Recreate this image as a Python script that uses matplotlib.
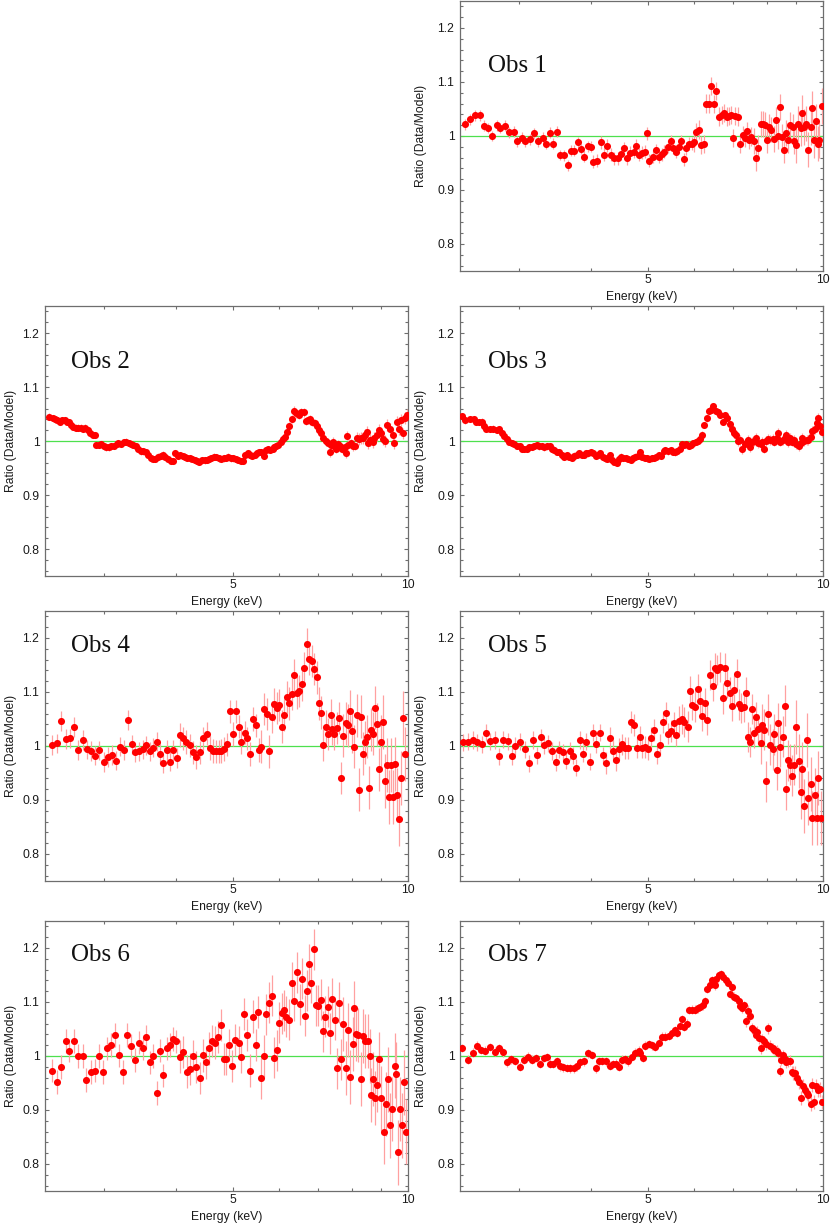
import matplotlib
matplotlib.use('Agg')
import matplotlib.pyplot as plt
from matplotlib.ticker import FixedLocator, MultipleLocator, NullFormatter

plt.rcParams['font.family'] = ['Liberation Sans', 'DejaVu Sans']

# ---- data: energy (keV), ratio (data/model), 1-sigma error ----
obs1_energy = [2.43, 2.47, 2.52, 2.57, 2.62, 2.66, 2.70, 2.75, 2.79, 2.84,
               2.89, 2.94, 2.98, 3.04, 3.08, 3.14, 3.19, 3.24, 3.30, 3.34,
               3.39, 3.44, 3.49, 3.53, 3.59, 3.64, 3.69, 3.74, 3.79, 3.84,
               3.89, 3.94, 3.99, 4.03, 4.09, 4.15, 4.21, 4.26, 4.32, 4.38,
               4.44, 4.49, 4.55, 4.60, 4.66, 4.73, 4.77, 4.83, 4.88, 4.94,
               4.98, 5.03, 5.10, 5.16, 5.22, 5.29, 5.34, 5.41, 5.47, 5.52,
               5.59, 5.65, 5.70, 5.76, 5.82, 5.88, 5.95, 6.01, 6.06, 6.12,
               6.17, 6.24, 6.29, 6.38, 6.43, 6.49, 6.56, 6.62, 6.71, 6.77,
               6.84, 6.90, 6.95, 7.00, 7.07, 7.14, 7.19, 7.28, 7.34, 7.40,
               7.47, 7.52, 7.60, 7.67, 7.73, 7.81, 7.88, 7.94, 8.02, 8.09,
               8.15, 8.23, 8.31, 8.37, 8.43, 8.51, 8.56, 8.64, 8.71, 8.79,
               8.87, 8.93, 9.00, 9.06, 9.15, 9.21, 9.27, 9.35, 9.43, 9.52,
               9.58, 9.64, 9.73, 9.80, 9.86, 9.96]
obs1_ratio = [1.022, 1.031, 1.038, 1.038, 1.019, 1.015, 1.000, 1.020, 1.015, 1.019,
              1.007, 1.008, 0.990, 0.997, 0.990, 0.994, 1.005, 0.990, 0.997, 0.986,
              1.006, 0.986, 1.008, 0.965, 0.964, 0.946, 0.973, 0.973, 0.988, 0.976,
              0.962, 0.981, 0.980, 0.952, 0.954, 0.988, 0.965, 0.982, 0.965, 0.959,
              0.959, 0.967, 0.977, 0.959, 0.969, 0.971, 0.982, 0.965, 0.969, 0.971,
              1.005, 0.954, 0.962, 0.974, 0.962, 0.966, 0.971, 0.980, 0.990, 0.978,
              0.971, 0.980, 0.990, 0.957, 0.977, 0.986, 0.986, 0.988, 1.008, 1.012,
              0.983, 0.985, 1.060, 1.060, 1.093, 1.059, 1.083, 1.036, 1.039, 1.043,
              1.036, 1.037, 1.039, 0.996, 1.037, 1.036, 0.986, 1.002, 0.996, 1.009,
              0.993, 0.999, 0.991, 0.960, 0.977, 1.023, 1.022, 1.020, 0.993, 1.017,
              1.012, 0.994, 1.030, 1.000, 1.053, 0.998, 0.974, 1.005, 0.993, 1.020,
              1.017, 0.990, 0.983, 1.022, 1.014, 1.043, 1.017, 1.023, 0.975, 1.016,
              1.051, 0.993, 1.027, 0.986, 0.993, 1.056]
obs1_err = [0.010, 0.010, 0.010, 0.010, 0.010, 0.010, 0.010, 0.010, 0.010, 0.010,
            0.010, 0.010, 0.010, 0.010, 0.010, 0.010, 0.010, 0.010, 0.010, 0.010,
            0.010, 0.010, 0.010, 0.010, 0.010, 0.010, 0.010, 0.010, 0.010, 0.010,
            0.010, 0.010, 0.010, 0.012, 0.012, 0.012, 0.012, 0.012, 0.012, 0.012,
            0.012, 0.012, 0.012, 0.012, 0.012, 0.012, 0.012, 0.012, 0.012, 0.012,
            0.012, 0.012, 0.012, 0.012, 0.012, 0.012, 0.012, 0.012, 0.012, 0.012,
            0.012, 0.012, 0.012, 0.012, 0.012, 0.012, 0.012, 0.017, 0.017, 0.017,
            0.017, 0.017, 0.017, 0.017, 0.017, 0.017, 0.017, 0.017, 0.017, 0.017,
            0.017, 0.017, 0.017, 0.017, 0.017, 0.017, 0.017, 0.017, 0.017, 0.017,
            0.017, 0.017, 0.024, 0.024, 0.024, 0.024, 0.024, 0.024, 0.024, 0.024,
            0.024, 0.024, 0.024, 0.024, 0.024, 0.024, 0.024, 0.024, 0.024, 0.024,
            0.024, 0.024, 0.033, 0.033, 0.033, 0.033, 0.033, 0.033, 0.033, 0.033,
            0.033, 0.033, 0.033, 0.033, 0.033, 0.033]

obs2_energy = [2.42, 2.45, 2.47, 2.49, 2.52, 2.54, 2.57, 2.59, 2.62, 2.64,
               2.66, 2.69, 2.71, 2.74, 2.76, 2.79, 2.82, 2.84, 2.87, 2.90,
               2.91, 2.94, 2.97, 3.00, 3.03, 3.06, 3.09, 3.12, 3.16, 3.18,
               3.21, 3.25, 3.28, 3.31, 3.34, 3.37, 3.41, 3.44, 3.47, 3.51,
               3.54, 3.58, 3.61, 3.65, 3.68, 3.72, 3.76, 3.80, 3.83, 3.87,
               3.91, 3.94, 3.98, 4.02, 4.05, 4.10, 4.14, 4.17, 4.22, 4.26,
               4.30, 4.34, 4.38, 4.42, 4.47, 4.51, 4.55, 4.59, 4.64, 4.68,
               4.73, 4.77, 4.82, 4.86, 4.91, 4.96, 5.01, 5.06, 5.11, 5.16,
               5.20, 5.25, 5.30, 5.35, 5.40, 5.45, 5.50, 5.55, 5.60, 5.65,
               5.70, 5.75, 5.79, 5.85, 5.89, 5.94, 5.99, 6.04, 6.09, 6.15,
               6.20, 6.25, 6.31, 6.37, 6.43, 6.50, 6.56, 6.62, 6.67, 6.73,
               6.79, 6.85, 6.91, 6.97, 7.03, 7.10, 7.15, 7.22, 7.28, 7.33,
               7.37, 7.42, 7.47, 7.52, 7.59, 7.64, 7.70, 7.78, 7.81, 7.85,
               7.90, 7.97, 8.04, 8.11, 8.16, 8.24, 8.31, 8.38, 8.45, 8.50,
               8.55, 8.61, 8.69, 8.75, 8.84, 8.93, 8.98, 9.05, 9.14, 9.22,
               9.32, 9.42, 9.47, 9.57, 9.64, 9.72, 9.80, 9.89, 9.98]
obs2_ratio = [1.045, 1.043, 1.040, 1.038, 1.036, 1.039, 1.038, 1.036, 1.035, 1.030,
              1.026, 1.025, 1.025, 1.025, 1.023, 1.025, 1.020, 1.014, 1.012, 1.011,
              0.993, 0.993, 0.994, 0.990, 0.988, 0.988, 0.990, 0.991, 0.994, 0.996,
              0.994, 0.998, 0.999, 0.996, 0.994, 0.993, 0.990, 0.985, 0.981, 0.981,
              0.980, 0.974, 0.968, 0.967, 0.967, 0.971, 0.973, 0.975, 0.970, 0.967,
              0.963, 0.963, 0.978, 0.973, 0.974, 0.972, 0.971, 0.969, 0.968, 0.967,
              0.965, 0.963, 0.962, 0.964, 0.964, 0.965, 0.967, 0.969, 0.971, 0.970,
              0.968, 0.967, 0.968, 0.969, 0.971, 0.968, 0.968, 0.967, 0.965, 0.963,
              0.963, 0.974, 0.977, 0.974, 0.973, 0.975, 0.977, 0.980, 0.980, 0.972,
              0.983, 0.985, 0.983, 0.986, 0.988, 0.991, 0.993, 0.999, 1.004, 1.008,
              1.017, 1.027, 1.041, 1.056, 1.051, 1.048, 1.053, 1.053, 1.037, 1.039,
              1.040, 1.035, 1.033, 1.027, 1.020, 1.015, 1.006, 1.000, 0.996, 0.979,
              0.993, 0.999, 0.990, 0.985, 0.994, 0.991, 0.985, 0.988, 0.977, 1.010,
              0.993, 0.996, 0.990, 0.991, 1.005, 1.004, 1.006, 1.005, 1.011, 1.016,
              0.996, 1.002, 0.998, 1.005, 1.011, 1.020, 1.014, 1.004, 1.000, 1.030,
              1.023, 1.012, 0.996, 1.035, 1.023, 1.039, 1.014, 1.043, 1.049]
obs2_err = [0.006, 0.006, 0.006, 0.006, 0.006, 0.006, 0.006, 0.006, 0.006, 0.006,
            0.006, 0.006, 0.006, 0.006, 0.006, 0.006, 0.006, 0.006, 0.006, 0.006,
            0.006, 0.006, 0.006, 0.006, 0.006, 0.006, 0.006, 0.006, 0.006, 0.006,
            0.006, 0.006, 0.006, 0.006, 0.006, 0.006, 0.006, 0.006, 0.006, 0.006,
            0.006, 0.006, 0.006, 0.006, 0.006, 0.006, 0.006, 0.006, 0.006, 0.006,
            0.006, 0.006, 0.006, 0.006, 0.006, 0.006, 0.006, 0.006, 0.006, 0.006,
            0.006, 0.006, 0.006, 0.006, 0.006, 0.006, 0.006, 0.006, 0.006, 0.006,
            0.006, 0.006, 0.006, 0.006, 0.006, 0.006, 0.006, 0.006, 0.006, 0.006,
            0.006, 0.006, 0.006, 0.006, 0.006, 0.006, 0.006, 0.006, 0.006, 0.006,
            0.006, 0.006, 0.006, 0.006, 0.006, 0.006, 0.006, 0.006, 0.006, 0.006,
            0.008, 0.008, 0.008, 0.008, 0.008, 0.008, 0.008, 0.008, 0.008, 0.008,
            0.008, 0.008, 0.008, 0.008, 0.008, 0.008, 0.008, 0.008, 0.008, 0.008,
            0.008, 0.008, 0.008, 0.008, 0.008, 0.008, 0.008, 0.008, 0.008, 0.008,
            0.008, 0.008, 0.008, 0.008, 0.011, 0.011, 0.011, 0.011, 0.011, 0.011,
            0.011, 0.011, 0.011, 0.011, 0.011, 0.011, 0.011, 0.011, 0.011, 0.011,
            0.011, 0.011, 0.011, 0.011, 0.011, 0.011, 0.011, 0.011, 0.011]

obs3_energy = [2.40, 2.43, 2.47, 2.51, 2.53, 2.56, 2.59, 2.62, 2.64, 2.68,
               2.71, 2.75, 2.78, 2.81, 2.83, 2.86, 2.89, 2.92, 2.95, 2.98,
               3.01, 3.04, 3.06, 3.10, 3.13, 3.16, 3.19, 3.22, 3.25, 3.29,
               3.32, 3.35, 3.39, 3.42, 3.45, 3.49, 3.52, 3.56, 3.59, 3.63,
               3.66, 3.70, 3.74, 3.78, 3.81, 3.85, 3.88, 3.92, 3.95, 3.99,
               4.03, 4.07, 4.10, 4.14, 4.18, 4.22, 4.26, 4.30, 4.34, 4.38,
               4.42, 4.46, 4.50, 4.54, 4.59, 4.63, 4.67, 4.71, 4.76, 4.80,
               4.85, 4.89, 4.94, 4.98, 5.03, 5.08, 5.12, 5.17, 5.22, 5.27,
               5.32, 5.36, 5.41, 5.47, 5.52, 5.57, 5.62, 5.67, 5.72, 5.77,
               5.82, 5.88, 5.93, 5.99, 6.04, 6.10, 6.15, 6.20, 6.25, 6.31,
               6.37, 6.43, 6.48, 6.54, 6.60, 6.66, 6.72, 6.79, 6.85, 6.91,
               6.98, 7.03, 7.10, 7.15, 7.21, 7.27, 7.33, 7.39, 7.44, 7.50,
               7.56, 7.62, 7.68, 7.74, 7.81, 7.87, 7.93, 7.99, 8.06, 8.12,
               8.19, 8.25, 8.32, 8.38, 8.45, 8.52, 8.59, 8.65, 8.72, 8.79,
               8.86, 8.93, 9.00, 9.08, 9.15, 9.22, 9.29, 9.37, 9.44, 9.52,
               9.59, 9.67, 9.75, 9.82, 9.90, 9.98]
obs3_ratio = [1.046, 1.038, 1.041, 1.040, 1.036, 1.035, 1.036, 1.027, 1.023, 1.022,
              1.023, 1.020, 1.022, 1.014, 1.010, 1.004, 0.999, 0.996, 0.994, 0.991,
              0.990, 0.986, 0.985, 0.985, 0.988, 0.989, 0.991, 0.993, 0.990, 0.991,
              0.988, 0.990, 0.991, 0.986, 0.983, 0.980, 0.980, 0.974, 0.971, 0.974,
              0.971, 0.969, 0.973, 0.975, 0.977, 0.974, 0.975, 0.977, 0.977, 0.980,
              0.977, 0.973, 0.975, 0.977, 0.971, 0.968, 0.967, 0.974, 0.965, 0.962,
              0.960, 0.967, 0.971, 0.969, 0.969, 0.967, 0.965, 0.969, 0.971, 0.973,
              0.979, 0.971, 0.969, 0.968, 0.967, 0.968, 0.969, 0.971, 0.974, 0.973,
              0.981, 0.983, 0.981, 0.983, 0.980, 0.979, 0.981, 0.985, 0.994, 0.993,
              0.994, 0.991, 0.993, 0.996, 0.998, 1.000, 1.004, 1.012, 1.030, 1.042,
              1.056, 1.057, 1.064, 1.056, 1.053, 1.048, 1.035, 1.048, 1.043, 1.031,
              1.023, 1.015, 1.012, 1.000, 1.002, 0.985, 0.994, 0.999, 1.002, 0.988,
              0.999, 1.000, 1.005, 0.996, 0.994, 0.999, 0.986, 1.000, 1.004, 1.002,
              1.004, 0.999, 1.006, 1.015, 0.999, 1.002, 1.005, 1.011, 0.998, 1.005,
              0.999, 1.002, 0.994, 0.990, 0.996, 1.005, 1.000, 1.002, 1.002, 1.008,
              1.019, 1.022, 1.033, 1.043, 1.027, 1.017]
obs3_err = [0.006, 0.006, 0.006, 0.006, 0.006, 0.006, 0.006, 0.006, 0.006, 0.006,
            0.006, 0.006, 0.006, 0.006, 0.006, 0.006, 0.006, 0.006, 0.006, 0.006,
            0.006, 0.006, 0.006, 0.006, 0.006, 0.006, 0.006, 0.006, 0.006, 0.006,
            0.006, 0.006, 0.006, 0.006, 0.006, 0.006, 0.006, 0.006, 0.006, 0.006,
            0.006, 0.006, 0.006, 0.006, 0.006, 0.006, 0.006, 0.006, 0.006, 0.006,
            0.006, 0.006, 0.006, 0.006, 0.006, 0.006, 0.006, 0.006, 0.006, 0.006,
            0.006, 0.006, 0.006, 0.006, 0.006, 0.006, 0.006, 0.006, 0.006, 0.006,
            0.006, 0.006, 0.006, 0.006, 0.006, 0.006, 0.006, 0.006, 0.006, 0.006,
            0.006, 0.006, 0.006, 0.006, 0.006, 0.006, 0.006, 0.006, 0.006, 0.006,
            0.006, 0.006, 0.006, 0.006, 0.006, 0.006, 0.006, 0.006, 0.006, 0.006,
            0.006, 0.006, 0.006, 0.006, 0.006, 0.006, 0.006, 0.006, 0.006, 0.006,
            0.009, 0.009, 0.009, 0.009, 0.009, 0.009, 0.009, 0.009, 0.009, 0.009,
            0.009, 0.009, 0.009, 0.009, 0.009, 0.009, 0.009, 0.009, 0.009, 0.009,
            0.009, 0.009, 0.009, 0.009, 0.009, 0.009, 0.009, 0.009, 0.009, 0.009,
            0.009, 0.009, 0.009, 0.009, 0.009, 0.009, 0.009, 0.009, 0.009, 0.009,
            0.009, 0.009, 0.009, 0.009, 0.009, 0.009]

obs4_energy = [2.44, 2.49, 2.53, 2.58, 2.63, 2.67, 2.71, 2.76, 2.81, 2.85,
               2.90, 2.95, 3.00, 3.05, 3.10, 3.15, 3.20, 3.25, 3.30, 3.35,
               3.40, 3.45, 3.50, 3.54, 3.60, 3.65, 3.70, 3.75, 3.80, 3.85,
               3.90, 3.95, 4.01, 4.06, 4.11, 4.16, 4.22, 4.27, 4.33, 4.39,
               4.45, 4.51, 4.57, 4.63, 4.68, 4.73, 4.78, 4.83, 4.89, 4.94,
               5.00, 5.06, 5.12, 5.17, 5.24, 5.29, 5.36, 5.42, 5.48, 5.54,
               5.60, 5.66, 5.72, 5.78, 5.84, 5.89, 5.95, 6.01, 6.07, 6.13,
               6.19, 6.25, 6.31, 6.37, 6.44, 6.50, 6.57, 6.63, 6.70, 6.77,
               6.83, 6.90, 6.97, 7.03, 7.10, 7.15, 7.22, 7.29, 7.36, 7.41,
               7.47, 7.54, 7.61, 7.68, 7.74, 7.81, 7.88, 7.95, 8.02, 8.09,
               8.16, 8.23, 8.30, 8.36, 8.44, 8.51, 8.57, 8.64, 8.71, 8.78,
               8.85, 8.92, 8.99, 9.06, 9.14, 9.21, 9.27, 9.34, 9.42, 9.49,
               9.57, 9.64, 9.72, 9.80, 9.88]
obs4_ratio = [1.002, 1.005, 1.046, 1.013, 1.014, 1.035, 0.993, 1.011, 0.994, 0.991,
              0.982, 0.992, 0.970, 0.980, 0.983, 0.973, 0.999, 0.993, 1.048, 1.003,
              0.988, 0.990, 0.994, 1.001, 0.990, 0.997, 1.008, 0.985, 0.968, 0.993,
              0.971, 0.993, 0.978, 1.020, 1.014, 1.008, 1.001, 0.988, 0.980, 0.988,
              1.014, 1.023, 0.997, 0.991, 0.990, 0.990, 0.991, 0.994, 1.003, 1.064,
              1.022, 1.064, 1.036, 1.008, 1.025, 1.014, 0.985, 1.050, 1.038, 0.993,
              0.999, 1.069, 1.059, 0.990, 1.054, 1.077, 1.070, 1.076, 1.036, 1.057,
              1.091, 1.079, 1.096, 1.131, 1.099, 1.102, 1.114, 1.145, 1.188, 1.162,
              1.157, 1.143, 1.127, 1.079, 1.062, 1.002, 1.036, 1.022, 1.057, 1.031,
              1.022, 1.033, 1.052, 0.941, 1.019, 1.042, 1.038, 1.064, 1.027, 0.999,
              1.057, 0.919, 1.054, 0.986, 1.007, 1.017, 0.923, 1.030, 1.023, 1.071,
              1.040, 0.957, 1.008, 1.045, 0.936, 0.964, 0.906, 0.965, 0.906, 0.966,
              0.910, 0.865, 0.941, 1.051, 0.985]
obs4_err = [0.018, 0.018, 0.018, 0.018, 0.018, 0.018, 0.018, 0.018, 0.018, 0.018,
            0.018, 0.018, 0.018, 0.018, 0.018, 0.018, 0.018, 0.018, 0.018, 0.018,
            0.018, 0.018, 0.018, 0.018, 0.018, 0.018, 0.018, 0.018, 0.018, 0.018,
            0.018, 0.018, 0.018, 0.022, 0.022, 0.022, 0.022, 0.022, 0.022, 0.022,
            0.022, 0.022, 0.022, 0.022, 0.022, 0.022, 0.022, 0.022, 0.022, 0.022,
            0.022, 0.022, 0.022, 0.022, 0.022, 0.022, 0.022, 0.022, 0.022, 0.022,
            0.030, 0.030, 0.030, 0.030, 0.030, 0.030, 0.030, 0.030, 0.030, 0.030,
            0.030, 0.030, 0.030, 0.030, 0.030, 0.030, 0.030, 0.030, 0.030, 0.030,
            0.030, 0.030, 0.030, 0.030, 0.030, 0.030, 0.030, 0.030, 0.030, 0.030,
            0.030, 0.030, 0.030, 0.030, 0.040, 0.040, 0.040, 0.040, 0.040, 0.040,
            0.040, 0.040, 0.040, 0.040, 0.040, 0.040, 0.040, 0.040, 0.040, 0.040,
            0.040, 0.040, 0.050, 0.050, 0.050, 0.050, 0.050, 0.050, 0.050, 0.050,
            0.050, 0.050, 0.050, 0.050, 0.050]

obs5_energy = [2.41, 2.45, 2.50, 2.54, 2.59, 2.64, 2.68, 2.73, 2.78, 2.82,
               2.87, 2.92, 2.96, 3.02, 3.07, 3.12, 3.17, 3.22, 3.27, 3.31,
               3.37, 3.42, 3.47, 3.52, 3.57, 3.62, 3.67, 3.72, 3.77, 3.82,
               3.87, 3.92, 3.97, 4.02, 4.07, 4.13, 4.19, 4.24, 4.30, 4.35,
               4.40, 4.46, 4.52, 4.57, 4.63, 4.68, 4.74, 4.79, 4.84, 4.89,
               4.94, 5.01, 5.07, 5.13, 5.19, 5.25, 5.31, 5.37, 5.42, 5.49,
               5.55, 5.60, 5.66, 5.72, 5.78, 5.85, 5.91, 5.96, 6.03, 6.09,
               6.15, 6.20, 6.27, 6.33, 6.39, 6.46, 6.51, 6.57, 6.64, 6.72,
               6.79, 6.85, 6.91, 6.98, 7.04, 7.11, 7.17, 7.24, 7.31, 7.38,
               7.43, 7.49, 7.55, 7.61, 7.68, 7.74, 7.81, 7.87, 7.93, 7.99,
               8.06, 8.12, 8.19, 8.25, 8.32, 8.38, 8.45, 8.52, 8.59, 8.65,
               8.72, 8.79, 8.86, 8.93, 9.00, 9.08, 9.15, 9.22, 9.29, 9.37,
               9.44, 9.52, 9.59, 9.67, 9.75, 9.82, 9.93]
obs5_ratio = [1.007, 1.008, 1.011, 1.007, 1.003, 1.025, 1.009, 1.011, 0.981, 1.012,
              1.009, 0.981, 1.000, 1.008, 0.994, 0.968, 1.011, 0.983, 1.016, 1.001,
              1.005, 0.991, 0.970, 0.993, 0.988, 0.973, 0.991, 0.982, 0.960, 1.011,
              0.986, 1.008, 0.971, 1.025, 1.003, 1.025, 0.983, 0.968, 1.015, 0.991,
              0.974, 0.994, 1.003, 0.996, 0.996, 1.045, 1.039, 0.997, 1.017, 0.997,
              0.998, 0.994, 1.015, 1.030, 0.986, 1.002, 1.045, 1.061, 1.023, 1.028,
              1.043, 1.020, 1.046, 1.050, 1.045, 1.036, 1.102, 1.076, 1.073, 1.106,
              1.083, 1.056, 1.079, 1.048, 1.131, 1.112, 1.145, 1.141, 1.147, 1.088,
              1.145, 1.116, 1.099, 1.075, 1.104, 1.133, 1.077, 1.071, 1.073, 1.099,
              1.017, 1.008, 1.068, 1.025, 1.054, 1.031, 1.005, 1.039, 1.030, 0.935,
              1.059, 1.002, 0.994, 1.022, 0.956, 1.042, 0.999, 1.017, 1.075, 0.920,
              0.974, 0.965, 0.945, 0.965, 1.035, 0.972, 0.915, 0.957, 0.888, 1.011,
              0.903, 0.929, 0.867, 0.909, 0.867, 0.941, 0.867]
obs5_err = [0.016, 0.016, 0.016, 0.016, 0.016, 0.016, 0.016, 0.016, 0.016, 0.016,
            0.016, 0.016, 0.016, 0.016, 0.016, 0.016, 0.016, 0.016, 0.016, 0.016,
            0.016, 0.016, 0.016, 0.016, 0.016, 0.016, 0.016, 0.016, 0.016, 0.016,
            0.016, 0.016, 0.016, 0.016, 0.016, 0.016, 0.016, 0.020, 0.020, 0.020,
            0.020, 0.020, 0.020, 0.020, 0.020, 0.020, 0.020, 0.020, 0.020, 0.020,
            0.020, 0.020, 0.020, 0.020, 0.020, 0.020, 0.020, 0.020, 0.020, 0.020,
            0.020, 0.020, 0.028, 0.028, 0.028, 0.028, 0.028, 0.028, 0.028, 0.028,
            0.028, 0.028, 0.028, 0.028, 0.028, 0.028, 0.028, 0.028, 0.028, 0.028,
            0.028, 0.028, 0.028, 0.028, 0.028, 0.028, 0.028, 0.028, 0.028, 0.028,
            0.028, 0.028, 0.028, 0.028, 0.028, 0.028, 0.038, 0.038, 0.038, 0.038,
            0.038, 0.038, 0.038, 0.038, 0.038, 0.038, 0.038, 0.038, 0.038, 0.038,
            0.038, 0.038, 0.038, 0.038, 0.050, 0.050, 0.050, 0.050, 0.050, 0.050,
            0.050, 0.050, 0.050, 0.050, 0.050, 0.050, 0.050]

obs6_energy = [2.44, 2.49, 2.53, 2.58, 2.62, 2.67, 2.71, 2.76, 2.80, 2.85,
               2.90, 2.94, 2.99, 3.04, 3.09, 3.14, 3.19, 3.24, 3.29, 3.34,
               3.39, 3.45, 3.50, 3.54, 3.60, 3.65, 3.70, 3.75, 3.80, 3.85,
               3.90, 3.95, 4.00, 4.05, 4.11, 4.17, 4.22, 4.27, 4.33, 4.39,
               4.45, 4.50, 4.55, 4.61, 4.66, 4.72, 4.77, 4.82, 4.87, 4.93,
               4.99, 5.05, 5.12, 5.17, 5.23, 5.29, 5.35, 5.41, 5.47, 5.53,
               5.59, 5.65, 5.71, 5.77, 5.83, 5.89, 5.95, 6.01, 6.07, 6.12,
               6.18, 6.24, 6.31, 6.37, 6.44, 6.51, 6.57, 6.64, 6.70, 6.76,
               6.82, 6.89, 6.95, 7.01, 7.08, 7.14, 7.21, 7.28, 7.35, 7.41,
               7.48, 7.54, 7.61, 7.68, 7.74, 7.83, 7.89, 7.95, 8.03, 8.09,
               8.14, 8.22, 8.30, 8.38, 8.45, 8.53, 8.59, 8.65, 8.72, 8.79,
               8.86, 8.93, 9.00, 9.09, 9.17, 9.24, 9.32, 9.39, 9.48, 9.54,
               9.62, 9.69, 9.77, 9.85, 9.93]
obs6_ratio = [0.973, 0.952, 0.979, 1.028, 1.010, 1.028, 1.000, 1.000, 0.956, 0.971,
              0.973, 1.000, 0.970, 1.014, 1.020, 1.039, 1.001, 0.970, 1.039, 1.019,
              0.993, 1.025, 1.014, 1.035, 0.988, 1.000, 0.932, 1.010, 0.964, 1.014,
              1.020, 1.031, 1.027, 0.999, 1.007, 0.971, 0.976, 1.000, 0.980, 0.959,
              1.001, 0.988, 1.014, 1.028, 1.025, 1.035, 1.057, 0.994, 0.994, 1.020,
              0.982, 1.030, 1.025, 0.999, 1.078, 1.039, 0.973, 1.073, 1.020, 1.081,
              0.959, 1.000, 1.077, 1.099, 1.112, 0.997, 1.011, 1.062, 1.079, 1.085,
              1.073, 1.067, 1.136, 1.102, 1.155, 1.096, 1.143, 1.075, 1.121, 1.170,
              1.136, 1.198, 1.094, 1.093, 1.104, 1.046, 1.073, 1.091, 1.042, 1.106,
              1.067, 0.977, 1.099, 0.994, 1.060, 0.977, 1.049, 0.962, 1.022, 1.088,
              1.040, 1.039, 0.957, 1.037, 1.028, 1.028, 1.000, 0.928, 0.957, 0.922,
              0.946, 0.994, 0.922, 0.860, 0.911, 0.957, 0.872, 0.902, 0.982, 0.966,
              0.822, 0.902, 0.872, 0.951, 0.860]
obs6_err = [0.022, 0.022, 0.022, 0.022, 0.022, 0.022, 0.022, 0.022, 0.022, 0.022,
            0.022, 0.022, 0.022, 0.022, 0.022, 0.022, 0.022, 0.022, 0.022, 0.022,
            0.022, 0.022, 0.022, 0.022, 0.022, 0.022, 0.022, 0.022, 0.022, 0.022,
            0.022, 0.022, 0.022, 0.030, 0.030, 0.030, 0.030, 0.030, 0.030, 0.030,
            0.030, 0.030, 0.030, 0.030, 0.030, 0.030, 0.030, 0.030, 0.030, 0.030,
            0.030, 0.030, 0.030, 0.030, 0.030, 0.030, 0.030, 0.030, 0.030, 0.030,
            0.038, 0.038, 0.038, 0.038, 0.038, 0.038, 0.038, 0.038, 0.038, 0.038,
            0.038, 0.038, 0.038, 0.038, 0.038, 0.038, 0.038, 0.038, 0.038, 0.038,
            0.038, 0.038, 0.038, 0.038, 0.038, 0.038, 0.038, 0.038, 0.038, 0.038,
            0.038, 0.038, 0.038, 0.038, 0.050, 0.050, 0.050, 0.050, 0.050, 0.050,
            0.050, 0.050, 0.050, 0.050, 0.050, 0.050, 0.050, 0.050, 0.050, 0.050,
            0.050, 0.050, 0.060, 0.060, 0.060, 0.060, 0.060, 0.060, 0.060, 0.060,
            0.060, 0.060, 0.060, 0.060, 0.060]

obs7_energy = [2.40, 2.45, 2.50, 2.54, 2.58, 2.63, 2.68, 2.73, 2.77, 2.82,
               2.86, 2.91, 2.96, 3.01, 3.06, 3.11, 3.16, 3.21, 3.26, 3.31,
               3.35, 3.40, 3.44, 3.49, 3.53, 3.58, 3.63, 3.68, 3.73, 3.78,
               3.83, 3.89, 3.95, 4.01, 4.07, 4.12, 4.17, 4.24, 4.30, 4.36,
               4.41, 4.46, 4.51, 4.57, 4.63, 4.70, 4.76, 4.82, 4.85, 4.90,
               4.95, 5.02, 5.08, 5.15, 5.22, 5.29, 5.36, 5.43, 5.50, 5.57,
               5.61, 5.67, 5.72, 5.78, 5.84, 5.88, 5.96, 6.02, 6.09, 6.15,
               6.22, 6.28, 6.32, 6.39, 6.45, 6.51, 6.56, 6.62, 6.68, 6.73,
               6.80, 6.86, 6.91, 6.98, 7.04, 7.10, 7.16, 7.21, 7.26, 7.31,
               7.36, 7.42, 7.48, 7.54, 7.60, 7.66, 7.71, 7.77, 7.82, 7.87,
               7.93, 7.99, 8.06, 8.12, 8.19, 8.25, 8.32, 8.37, 8.43, 8.48,
               8.54, 8.60, 8.65, 8.71, 8.77, 8.83, 8.89, 8.96, 9.03, 9.10,
               9.17, 9.24, 9.31, 9.37, 9.44, 9.52, 9.59, 9.66, 9.72, 9.80,
               9.88, 9.95]
obs7_ratio = [1.015, 0.993, 1.006, 1.019, 1.011, 1.010, 1.017, 1.008, 1.015, 1.007,
              0.988, 0.994, 0.991, 0.980, 0.993, 0.999, 0.993, 0.996, 0.985, 0.996,
              0.998, 0.986, 0.985, 0.990, 0.981, 0.979, 0.978, 0.977, 0.977, 0.981,
              0.988, 0.990, 1.005, 1.002, 0.977, 0.990, 0.991, 0.990, 0.982, 0.985,
              0.986, 0.980, 0.993, 0.994, 0.990, 0.998, 1.006, 1.010, 1.005, 0.996,
              1.019, 1.022, 1.020, 1.017, 1.025, 1.036, 1.036, 1.037, 1.042, 1.048,
              1.043, 1.056, 1.068, 1.054, 1.060, 1.085, 1.086, 1.086, 1.088, 1.091,
              1.094, 1.101, 1.125, 1.131, 1.141, 1.131, 1.142, 1.150, 1.152, 1.147,
              1.141, 1.136, 1.115, 1.127, 1.110, 1.107, 1.101, 1.093, 1.088, 1.094,
              1.064, 1.084, 1.074, 1.051, 1.048, 1.039, 1.045, 1.033, 1.014, 1.031,
              1.027, 1.022, 1.051, 1.019, 1.014, 1.011, 1.010, 1.006, 0.973, 0.993,
              1.002, 0.994, 0.988, 0.990, 0.991, 0.971, 0.968, 0.968, 0.959, 0.952,
              0.922, 0.944, 0.937, 0.932, 0.928, 0.912, 0.946, 0.914, 0.944, 0.937,
              0.938, 0.914]
obs7_err = [0.008, 0.008, 0.008, 0.008, 0.008, 0.008, 0.008, 0.008, 0.008, 0.008,
            0.008, 0.008, 0.008, 0.008, 0.008, 0.008, 0.008, 0.008, 0.008, 0.008,
            0.008, 0.008, 0.008, 0.008, 0.008, 0.008, 0.008, 0.008, 0.008, 0.008,
            0.008, 0.008, 0.008, 0.008, 0.008, 0.008, 0.008, 0.008, 0.008, 0.008,
            0.008, 0.008, 0.008, 0.008, 0.008, 0.008, 0.008, 0.008, 0.008, 0.008,
            0.008, 0.008, 0.008, 0.008, 0.008, 0.008, 0.008, 0.008, 0.008, 0.008,
            0.008, 0.008, 0.008, 0.008, 0.008, 0.008, 0.008, 0.008, 0.008, 0.008,
            0.008, 0.008, 0.008, 0.008, 0.008, 0.008, 0.008, 0.008, 0.008, 0.008,
            0.008, 0.008, 0.008, 0.008, 0.008, 0.008, 0.008, 0.008, 0.008, 0.008,
            0.010, 0.010, 0.010, 0.010, 0.010, 0.010, 0.010, 0.010, 0.010, 0.010,
            0.010, 0.010, 0.010, 0.010, 0.010, 0.010, 0.010, 0.010, 0.010, 0.010,
            0.010, 0.010, 0.010, 0.010, 0.010, 0.010, 0.013, 0.013, 0.013, 0.013,
            0.013, 0.013, 0.013, 0.013, 0.013, 0.013, 0.013, 0.013, 0.013, 0.013,
            0.013, 0.013]

obs_labels = ['Obs 1', 'Obs 2', 'Obs 3', 'Obs 4', 'Obs 5', 'Obs 6', 'Obs 7']
ytick_values = [0.8, 0.9, 1.0, 1.1, 1.2]
ytick_labels = ['0.8', '0.9', '1', '1.1', '1.2']
xtick_values = [5, 10]
xtick_labels = ['5', '10']
xminor_values = [3, 4, 6, 7, 8, 9]

W, H = 830, 1223
fig = plt.figure(figsize=(W / 100, H / 100), dpi=100)

col_left = {0: 45, 1: 460}
row_top = [1, 306, 611, 921]
ax_w, ax_h = 363, 270

# (label index, data, column, row, label y in axes fraction)
panels = [
    (0, obs1_energy, obs1_ratio, obs1_err, 1, 0, 0.738),
    (1, obs2_energy, obs2_ratio, obs2_err, 0, 1, 0.769),
    (2, obs3_energy, obs3_ratio, obs3_err, 1, 1, 0.769),
    (3, obs4_energy, obs4_ratio, obs4_err, 0, 2, 0.850),
    (4, obs5_energy, obs5_ratio, obs5_err, 1, 2, 0.850),
    (5, obs6_energy, obs6_ratio, obs6_err, 0, 3, 0.853),
    (6, obs7_energy, obs7_ratio, obs7_err, 1, 3, 0.853),
]

spine_col = '#6e6e6e'
fs = 8.7
for idx, en, ra, er, col, row, ty in panels:
    x0 = col_left[col] / W
    y0 = 1 - (row_top[row] + ax_h) / H
    ax = fig.add_axes([x0, y0, ax_w / W, ax_h / H])
    ax.set_xscale('log')
    ax.set_xlim(2.378, 10.0)
    ax.set_ylim(0.75, 1.25)

    ax.axhline(1.0, color='#4ee04e', lw=0.9, zorder=2)
    ax.errorbar(en, ra, yerr=er, fmt='o', color='#ff0000', ms=5.1, mew=0,
                ecolor='#ffa0a0', elinewidth=0.9, capsize=0, zorder=3)

    ax.xaxis.set_major_locator(FixedLocator(xtick_values))
    ax.set_xticklabels(xtick_labels)
    ax.xaxis.set_minor_locator(FixedLocator(xminor_values))
    ax.xaxis.set_minor_formatter(NullFormatter())
    ax.set_yticks(ytick_values)
    ax.set_yticklabels(ytick_labels)
    ax.yaxis.set_minor_locator(MultipleLocator(0.02))

    ax.tick_params(which='both', direction='in', top=True, right=True,
                   colors=spine_col, labelcolor='#1a1a1a', labelsize=fs, width=0.8)
    ax.tick_params(which='major', length=3.2)
    ax.tick_params(which='minor', length=2.0)
    ax.tick_params(axis='y', pad=4.0)
    ax.tick_params(axis='x', pad=2.5)
    for sp in ax.spines.values():
        sp.set_color(spine_col)
        sp.set_linewidth(0.9)

    ax.set_xlabel('Energy (keV)', fontsize=fs, labelpad=3.0, color='#1a1a1a')
    ax.set_ylabel('Ratio (Data/Model)', fontsize=fs, color='#1a1a1a', va='center')
    ylab_off = 34 if col == 0 else 39
    ax.yaxis.set_label_coords(-ylab_off / ax_w, 0.5)

    tx = 0.0716 if col == 0 else 0.077
    ax.text(tx, ty, obs_labels[idx], transform=ax.transAxes, ha='left', va='baseline',
            fontsize=18, family=['Liberation Serif', 'DejaVu Serif'], color='#111111')

fig.savefig('out.png', dpi=100)
